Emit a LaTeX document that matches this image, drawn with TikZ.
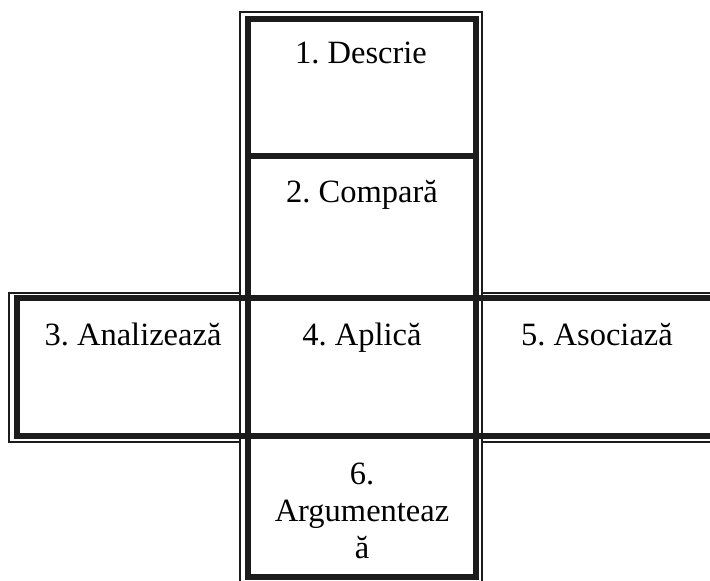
\documentclass[tikz,border=0pt]{standalone}
\usepackage{fontspec}
\setmainfont{Liberation Serif}
\frenchspacing
\definecolor{lineC}{RGB}{28,28,28}
\begin{document}
\begin{tikzpicture}[x=1pt,y=-1pt,
  thickline/.style={draw=lineC,line width=6pt},
  thinline/.style={draw=lineC,line width=1.6pt},
  lbl/.style={inner sep=0pt,font=\fontsize{32.5}{37}\selectfont\frenchspacing,text=black}]
\useasboundingbox (0,0) rectangle (710,581);
\clip (0,0) rectangle (710,581);
% thin outer lines
\draw[thinline] (720,293) -- (482,293) -- (482,12) -- (240,12) -- (240,293) -- (9,293) -- (9,442) -- (240,442) -- (240,600);
\draw[thinline] (720,442) -- (482,442) -- (482,600);
\draw[thinline] (240,293) -- (240,442);
\draw[thinline] (482,293) -- (482,442);
% thick cell borders
\draw[thickline] (248,19) rectangle (476,156);
\draw[thickline] (248,156) rectangle (476,298);
\draw[thickline] (17,298) rectangle (248,436);
\draw[thickline] (248,298) rectangle (476,436);
\draw[thickline] (476,298) rectangle (730,436);
\draw[thickline] (248,436) rectangle (476,577);
% texts
\node[lbl,anchor=base] (t1) at (361,63) {1. Descrie};
\node[lbl,anchor=base] (t2) at (362,202) {2. Compară};
\node[lbl,anchor=base] (t3) at (133,345) {3. Analizează};
\node[lbl,anchor=base] (t4) at (362,345) {4. Aplică};
\node[lbl,anchor=base] (t5) at (597,345) {5. Asociază};
\node[lbl,anchor=north,align=center] (t6) at (362,463) {6.\\Argumenteaz\\ă};
\end{tikzpicture}
\end{document}
